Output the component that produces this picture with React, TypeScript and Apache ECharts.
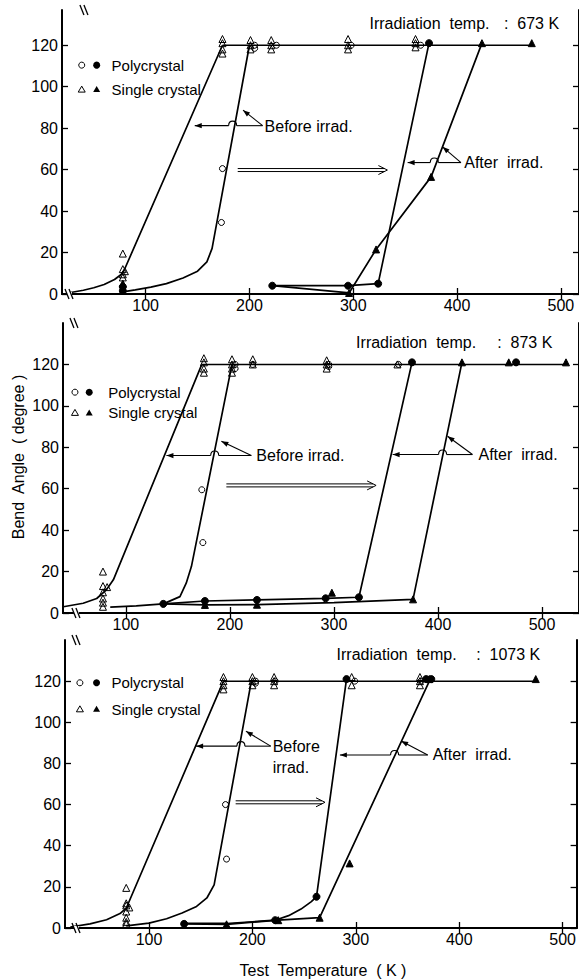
import React, { useEffect, useRef } from 'react';
import * as echarts from 'echarts';

const FONT = '"Liberation Sans", Arial, sans-serif';

const tempTicks = [100, 200, 300, 400, 500];
const angleTicks = [0, 20, 40, 60, 80, 100, 120];
const irradiationTemps = ['673 K', '873 K', '1073 K'];
const legendLabels = ['Polycrystal', 'Single crystal'];

// ---------- Panel 1 : irradiation 673 K ----------
const p1BeforeSingle = [[25, 0.5], [40, 1.8], [50, 3], [60, 4.6], [70, 7], [78, 10], [174, 120]];
const p1BeforePoly = [[78, 1], [90, 2], [105, 3.3], [120, 5], [136, 7.7], [150, 11], [159, 15.5], [164, 22], [200, 120]];
const p1AfterPoly = [[222, 4], [295, 4], [324, 5], [373, 121]];
const p1AfterSingle = [[222, 4], [296, 0.5], [322, 21.5], [375, 56.5], [424, 121]];
const p1Plateau = [[174, 120], [472, 120]];
const p1OpenCircles = [[174, 60.5], [173, 34.5], [205, 120], [205, 118.5], [226, 120], [298, 120], [365, 120]];
const p1OpenTriangles = [[78, 19.5], [78, 12], [80, 11], [78, 9.5], [78, 8], [174, 123], [174, 121], [174, 118], [174, 116], [201, 122.5], [201, 120], [201, 118], [221, 122.5], [221, 120], [221, 118], [295, 123], [295, 120], [295, 118], [360, 123], [360, 121], [360, 119]];
const p1FilledCircles = [[78, 1.5], [78, 3.5], [222, 4], [295, 4], [324, 5], [373, 121]];
const p1FilledTriangles = [[78, 5], [296, 0.5], [322, 21.5], [375, 56.5], [424, 121], [472, 121]];

// ---------- Panel 2 : irradiation 873 K ----------
const p2BeforeSingle = [[40, 3], [59, 4.7], [72, 7], [81, 11], [88, 16], [173, 120]];
const p2BeforePoly = [[85, 2.8], [110, 3.4], [136, 4.4], [152, 7.9], [158, 14.4], [163, 22.4], [202, 120]];
const p2AfterPoly = [[136, 4.4], [176, 5.8], [226, 6.3], [292, 7.1], [324, 7.6], [375, 121]];
const p2AfterSingle = [[136, 4.4], [176, 3.9], [226, 4], [300, 5], [376, 6.6], [423, 121]];
const p2Plateau = [[173, 120], [523, 120]];
const p2OpenCircles = [[173, 59.5], [174, 34], [205, 120], [205, 118], [222, 120], [295, 120], [295, 119], [362, 120]];
const p2OpenTriangles = [[78, 20], [78, 13], [82, 12.5], [78, 10], [78, 7], [78, 5], [78, 3], [175, 123], [175, 121], [175, 118], [175, 116], [202, 122.5], [202, 120], [202, 118], [202, 116], [222, 122.5], [222, 120], [293, 122], [293, 120], [293, 118], [361, 120]];
const p2FilledCircles = [[136, 4.4], [176, 5.8], [226, 6.3], [292, 7.1], [324, 7.6], [375, 121], [475, 121]];
const p2FilledTriangles = [[176, 3.9], [226, 4], [298, 9.8], [376, 6.6], [423, 121], [468, 121], [523, 121]];

// ---------- Panel 3 : irradiation 1073 K ----------
const p3BeforeSingle = [[24, 0.5], [43, 2], [59, 4], [72, 7], [78, 9.6], [172, 120]];
const p3BeforePoly = [[78, 1], [100, 2.4], [117, 4.5], [132, 7.3], [146, 10.5], [156, 14.6], [163, 21], [199, 120]];
const p3AfterPoly = [[134, 2.2], [175, 2.2], [222, 3.8], [235, 6], [247, 9.2], [257, 12.8], [262, 15.2], [291, 121]];
const p3AfterSingle = [[134, 2], [175, 1.8], [225, 3.8], [265, 5], [372, 121]];
const p3Plateau = [[172, 120], [474, 120]];
const p3OpenCircles = [[174, 60], [175, 33.5], [203, 120], [203, 119], [222, 120], [299, 120], [363, 120]];
const p3OpenTriangles = [[78, 19.5], [78, 12], [78, 11], [81, 10], [78, 8], [78, 5], [78, 3], [78, 2], [172, 122], [172, 120], [172, 118], [172, 116], [200, 122], [200, 120], [200, 118], [221, 122], [221, 120], [221, 118], [296, 122], [296, 118], [362, 122], [362, 120], [362, 118]];
const p3FilledCircles = [[134, 2], [222, 3.8], [262, 15.2], [291, 121], [368, 121], [373, 121]];
const p3FilledTriangles = [[175, 1.8], [225, 3.8], [265, 5], [294, 31.4], [371, 121], [474, 121]];

const panelSeries = [
  { beforeSingle: p1BeforeSingle, beforePoly: p1BeforePoly, afterPoly: p1AfterPoly, afterSingle: p1AfterSingle, plateau: p1Plateau, openCircles: p1OpenCircles, openTriangles: p1OpenTriangles, filledCircles: p1FilledCircles, filledTriangles: p1FilledTriangles },
  { beforeSingle: p2BeforeSingle, beforePoly: p2BeforePoly, afterPoly: p2AfterPoly, afterSingle: p2AfterSingle, plateau: p2Plateau, openCircles: p2OpenCircles, openTriangles: p2OpenTriangles, filledCircles: p2FilledCircles, filledTriangles: p2FilledTriangles },
  { beforeSingle: p3BeforeSingle, beforePoly: p3BeforePoly, afterPoly: p3AfterPoly, afterSingle: p3AfterSingle, plateau: p3Plateau, openCircles: p3OpenCircles, openTriangles: p3OpenTriangles, filledCircles: p3FilledCircles, filledTriangles: p3FilledTriangles },
];

// layout of each panel (pixels) and axis extents
const layout = [
  { left: 62, top: 10, width: 518, height: 284, xMin: 19.4, xMax: 517.5, yMax: 137 },
  { left: 63, top: 323, width: 517, height: 290, xMin: 39.6, xMax: 535.5, yMax: 140 },
  { left: 65, top: 640, width: 515, height: 288, xMin: 18.8, xMax: 513.5, yMax: 140 },
];

// annotation anchors, in data units (K, degree)
const notes = [
  {
    irrad: { left: 315.6, right: 498.3, v: 130.6 },
    legend: { open: 38.4, filled: 52.8, text: 67.2, rows: [110.4, 98.6] },
    before: { text: [214.6, 81], origin: [212.7, 81.2], tip: [193.8, 88.7], hump: 183.8, left: 147.3 },
    after: { text: [406.9, 63.3], origin: [403.8, 63.4], tip: [386, 71], hump: 378.1, left: 352.4 },
    shift: [188.7, 332.9, 59.8],
    breaks: [27.1, 41.5],
  },
  {
    irrad: { left: 321.3, right: 509.9, v: 130.5 },
    legend: { open: 51.1, filled: 64.8, text: 83, rows: [106.6, 96.6] },
    before: { text: [225.4, 76], origin: [220.6, 76], tip: [191.8, 82.9], hump: 185.4, left: 139 },
    after: { text: [438.9, 76.5], origin: [433.1, 76.5], tip: [409.2, 85.3], hump: 404.4, left: 356.4 },
    shift: [196.6, 340.5, 61.6],
    breaks: [53, 51.1],
  },
  {
    irrad: { left: 281.4, right: 478.3, v: 133.1 },
    legend: { open: 33.2, filled: 49.3, text: 63.7, rows: [119.2, 106.3] },
    before: { text: [219.6, 88], text2v: 78.2, origin: [217.7, 88.4], tip: [193.7, 95.7], hump: 188.9, left: 145.6 },
    after: { text: [374.3, 84.1], origin: [369.5, 84.1], tip: [343.8, 90.9], hump: 337.5, left: 284.6 },
    shift: [183.8, 270.2, 61.1],
    breaks: [30.4, 30.4],
  },
];

const BLK = '#000';

function seg(a: number[], b: number[], w = 1.1) {
  return { type: 'line', z: 100, silent: true, shape: { x1: a[0], y1: a[1], x2: b[0], y2: b[1] }, style: { stroke: BLK, lineWidth: w } };
}
function head(tip: number[], from: number[], len = 7, half = 2.6) {
  const dx = tip[0] - from[0];
  const dy = tip[1] - from[1];
  const d = Math.hypot(dx, dy) || 1;
  const ux = dx / d, uy = dy / d;
  const bx = tip[0] - ux * len, by = tip[1] - uy * len;
  return {
    type: 'polygon', z: 100, silent: true,
    shape: { points: [[tip[0], tip[1]], [bx - uy * half, by + ux * half], [bx + uy * half, by - ux * half]] },
    style: { fill: BLK },
  };
}
function label(p: number[], text: string, size: number, align = 'left', extra: any = {}) {
  return {
    type: 'text', z: 100, silent: true, x: p[0], y: p[1], ...extra,
    style: { text, fontSize: size, fontFamily: FONT, fill: BLK, align, verticalAlign: 'middle' },
  };
}

function buildLineSeries(data: number[][], i: number, w = 1.7) {
  return {
    type: 'line', xAxisIndex: 2 * i, yAxisIndex: 2 * i, data, symbol: 'none', showSymbol: false,
    lineStyle: { color: BLK, width: w }, silent: true, z: 2, animation: false,
  };
}
function buildScatter(data: number[][], i: number, symbol: string, filled: boolean, size: number) {
  return {
    type: 'scatter', xAxisIndex: 2 * i, yAxisIndex: 2 * i, data, symbol, symbolSize: size,
    itemStyle: { color: filled ? BLK : 'rgba(255,255,255,0)', borderColor: BLK, borderWidth: 1, opacity: 1 },
    silent: true, z: 3, animation: false,
  };
}

export default function App() {
  const ref = useRef<HTMLDivElement>(null);

  useEffect(() => {
    if (!ref.current) return;
    const chart = echarts.init(ref.current, null, { renderer: 'svg' });

    const grids: any[] = [];
    const xAxes: any[] = [];
    const yAxes: any[] = [];
    const series: any[] = [];
    const axisLine = { show: true, lineStyle: { color: BLK, width: 2 } };
    const tickStyle = { color: BLK, width: 1.3 };
    const labelStyle = { color: BLK, fontSize: 16, fontFamily: FONT };

    layout.forEach((L, i) => {
      grids.push({ left: L.left, top: L.top, width: L.width, height: L.height, containLabel: false });
      xAxes.push({
        type: 'value', gridIndex: i, position: 'bottom', min: L.xMin, max: L.xMax,
        axisLine, splitLine: { show: false },
        axisTick: { show: true, inside: true, length: 6, customValues: tempTicks, lineStyle: tickStyle },
        axisLabel: { ...labelStyle, margin: 3, customValues: tempTicks },
      });
      xAxes.push({
        type: 'value', gridIndex: i, position: 'top', min: L.xMin, max: L.xMax,
        axisLine, splitLine: { show: false },
        axisTick: { show: true, inside: true, length: 6, customValues: tempTicks, lineStyle: tickStyle },
        axisLabel: { show: false, customValues: tempTicks },
      });
      yAxes.push({
        type: 'value', gridIndex: i, position: 'left', min: 0, max: L.yMax,
        axisLine, splitLine: { show: false },
        axisTick: { show: true, inside: true, length: 6, customValues: angleTicks, lineStyle: tickStyle },
        axisLabel: { ...labelStyle, margin: 4, customValues: angleTicks },
      });
      yAxes.push({
        type: 'value', gridIndex: i, position: 'right', min: 0, max: L.yMax,
        axisLine, splitLine: { show: false },
        axisTick: { show: true, inside: true, length: 6, customValues: angleTicks, lineStyle: tickStyle },
        axisLabel: { show: false, customValues: angleTicks },
      });

      const S = panelSeries[i];
      series.push(buildLineSeries(S.beforeSingle, i));
      series.push(buildLineSeries(S.beforePoly, i));
      series.push(buildLineSeries(S.afterPoly, i));
      series.push(buildLineSeries(S.afterSingle, i));
      series.push(buildLineSeries(S.plateau, i, 1.5));
      series.push(buildScatter(S.openCircles, i, 'circle', false, 6));
      series.push(buildScatter(S.openTriangles, i, 'triangle', false, 7));
      series.push(buildScatter(S.filledCircles, i, 'circle', true, 7));
      series.push(buildScatter(S.filledTriangles, i, 'triangle', true, 7));
    });

    chart.setOption({
      animation: false,
      backgroundColor: '#fff',
      grid: grids,
      xAxis: xAxes,
      yAxis: yAxes,
      series,
    });

    const g: any[] = [];
    notes.forEach((N, i) => {
      const P = (T: number, v: number) =>
        chart.convertToPixel({ xAxisIndex: 2 * i, yAxisIndex: 2 * i } as any, [T, v]) as number[];

      // legend
      N.legend.rows.forEach((v, r) => {
        const a = P(N.legend.open, v);
        const b = P(N.legend.filled, v);
        if (r === 0) {
          g.push({ type: 'circle', z: 100, silent: true, shape: { cx: a[0], cy: a[1], r: 3 }, style: { fill: '#fff', stroke: BLK, lineWidth: 1 } });
          g.push({ type: 'circle', z: 100, silent: true, shape: { cx: b[0], cy: b[1], r: 3.5 }, style: { fill: BLK } });
        } else {
          const tri = (c: number[]) => [[c[0], c[1] - 3.5], [c[0] - 3.5, c[1] + 2.5], [c[0] + 3.5, c[1] + 2.5]];
          g.push({ type: 'polygon', z: 100, silent: true, shape: { points: tri(a) }, style: { fill: '#fff', stroke: BLK, lineWidth: 1 } });
          g.push({ type: 'polygon', z: 100, silent: true, shape: { points: tri(b) }, style: { fill: BLK } });
        }
        g.push(label(P(N.legend.text, v), legendLabels[r], 15));
      });

      // irradiation temperature
      g.push(label(P(N.irrad.left, N.irrad.v), 'Irradiation  temp.', 16));
      g.push(label(P(N.irrad.right, N.irrad.v), ':  ' + irradiationTemps[i], 16, 'right'));

      // before / after pointers
      const pointer = (n: any) => {
        const o = P(n.origin[0], n.origin[1]);
        const tip = P(n.tip[0], n.tip[1]);
        const h = P(n.hump, n.origin[1]);
        const l = P(n.left, n.origin[1]);
        const y = o[1];
        g.push(seg(o, tip));
        g.push(head(tip, o));
        g.push(seg(o, [h[0] + 4, y]));
        g.push({
          type: 'bezierCurve', z: 100, silent: true,
          shape: { x1: h[0] + 4, y1: y, cpx1: h[0] + 4, cpy1: y - 6, cpx2: h[0] - 4, cpy2: y - 6, x2: h[0] - 4, y2: y },
          style: { stroke: BLK, lineWidth: 1.1, fill: 'none' },
        });
        g.push(seg([h[0] - 4, y], l));
        g.push(head(l, [l[0] + 10, y]));
      };
      pointer(N.before);
      pointer(N.after);
      const bt = N.before as any;
      if (bt.text2v !== undefined) {
        g.push(label(P(bt.text[0], bt.text[1]), 'Before', 16));
        g.push(label(P(bt.text[0], bt.text2v), 'irrad.', 16));
      } else {
        g.push(label(P(bt.text[0], bt.text[1]), 'Before irrad.', 16));
      }
      g.push(label(P(N.after.text[0], N.after.text[1]), 'After  irrad.', 16));

      // hollow shift arrow
      const a = P(N.shift[0], N.shift[2]);
      const b = P(N.shift[1], N.shift[2]);
      g.push(seg([a[0], a[1] - 1.5], [b[0] - 3, a[1] - 1.5], 1));
      g.push(seg([a[0], a[1] + 1.5], [b[0] - 3, a[1] + 1.5], 1));
      g.push({
        type: 'polyline', z: 100, silent: true,
        shape: { points: [[b[0] - 9, a[1] - 4.5], [b[0], a[1]], [b[0] - 9, a[1] + 4.5]] },
        style: { stroke: BLK, lineWidth: 1, fill: 'none' },
      });

      // axis break marks
      const L = layout[i];
      [P(N.breaks[0], 0), P(N.breaks[1], L.yMax)].forEach((p) => {
        g.push({ type: 'rect', z: 99, silent: true, shape: { x: p[0] - 3, y: p[1] - 2, width: 5, height: 4 }, style: { fill: '#fff' } });
        g.push(seg([p[0] - 5, p[1] - 5], [p[0] - 1, p[1] + 5], 1.3));
        g.push(seg([p[0] - 1, p[1] - 5], [p[0] + 3, p[1] + 5], 1.3));
      });
    });

    // axis titles
    g.push(label([18, 457], 'Bend  Angle  ( degree )', 16, 'center', { rotation: Math.PI / 2 }));
    g.push(label([323, 970], 'Test  Temperature  ( K )', 16, 'center'));

    chart.setOption({ graphic: g });

    return () => chart.dispose();
  }, []);

  return <div ref={ref} style={{ position: 'absolute', left: 0, top: 0, width: 579, height: 980, background: '#fff' }} />;
}
